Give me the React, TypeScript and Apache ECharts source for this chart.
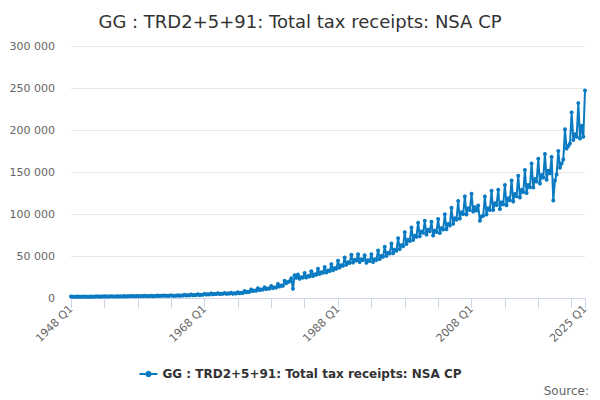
import React, { useEffect, useRef } from "react";
import * as echarts from "echarts";

const TITLE = "GG : TRD2+5+91: Total tax receipts: NSA CP";
const SERIES_NAME = "GG : TRD2+5+91: Total tax receipts: NSA CP";
const FIRST_YEAR = 1948;

// Quarterly values (£m), 1948 Q1 .. 2025 Q1
const values1948_1959 = [
  1680, 1380, 1490, 1450, 1740, 1430, 1530, 1500, 1790, 1470, 1580, 1550,
  1900, 1560, 1680, 1650, 1960, 1610, 1730, 1700, 2020, 1660, 1780, 1750,
  2070, 1700, 1830, 1790, 2180, 1790, 1930, 1890, 2300, 1890, 2030, 1990,
  2410, 1980, 2130, 2090, 2520, 2070, 2230, 2180, 2580, 2120, 2280, 2230,
];
const values1960_1969 = [
  2690, 2210, 2380, 2330, 2910, 2390, 2570, 2520, 3080, 2530, 2720, 2670,
  3140, 2580, 2770, 2720, 3360, 2760, 2970, 2910, 3750, 3080, 3320, 3250,
  4090, 3360, 3610, 3540, 4420, 3630, 3910, 3830, 4930, 4050, 4360, 4270,
  5490, 4510, 4850, 4750,
];
const values1970_1979 = [
  5820, 4780, 5150, 5040, 6050, 4970, 5350, 5240, 6270, 5150, 5540, 5430,
  6940, 5700, 6140, 6010, 8400, 6900, 7430, 7280, 10080, 8280, 8910, 8730,
  11540, 9480, 10200, 9990, 12880, 10580, 11390, 11160, 14340, 11780, 12670, 12420,
  16800, 13800, 14850, 14550,
];
const values1980_1989 = [
  20500, 17500, 19000, 20000, 23500, 11000, 27000, 24000, 28000, 23000, 24750, 24250,
  29680, 24380, 26240, 25710, 31920, 26220, 28220, 27650, 34720, 28520, 30690, 30070,
  36960, 30360, 32670, 32010, 40320, 33120, 35640, 34920, 44240, 36340, 39110, 38320,
  48160, 39560, 42570, 41710,
];
const values1990_1999 = [
  51520, 42320, 45540, 44620, 52080, 42780, 46040, 45110, 50960, 41860, 45050, 44140,
  52080, 42780, 46040, 45110, 56560, 46460, 50000, 48990, 61040, 50140, 53960, 52870,
  64960, 53360, 57420, 56260, 71120, 58420, 62870, 61600, 78400, 64400, 69300, 67900,
  84000, 69000, 74250, 72750,
];
const values2000_2009 = [
  89600, 73600, 79200, 77600, 91840, 75440, 81180, 79540, 90720, 74520, 80190, 78570,
  94080, 77280, 83160, 81480, 99680, 81880, 88110, 86330, 107520, 88320, 95040, 93120,
  115360, 94760, 101970, 99910, 120960, 99360, 106920, 104760, 124000, 103000, 108000, 104000,
  110000, 92000, 97000, 98000,
];
const values2010_2019 = [
  120960, 99360, 106920, 104760, 127680, 104880, 112860, 110580, 128800, 105800, 113850, 111550,
  134400, 110400, 118800, 116400, 140000, 115000, 123750, 121250, 145600, 119600, 128700, 126100,
  152320, 125120, 134640, 131920, 160160, 131560, 141570, 138710, 165760, 136160, 146520, 143560,
  171360, 140760, 151470, 148410,
];
const values2020_2025 = [
  168000, 116000, 140000, 147000, 175000, 155000, 160000, 165000,
  201000, 178000, 181000, 184000, 221000, 188000, 195000, 192000,
  232000, 190000, 205000, 192000, 247000,
];

const values = [
  ...values1948_1959,
  ...values1960_1969,
  ...values1970_1979,
  ...values1980_1989,
  ...values1990_1999,
  ...values2000_2009,
  ...values2010_2019,
  ...values2020_2025,
];

const categories = values.map(
  (_, i) => `${FIRST_YEAR + Math.floor(i / 4)} Q${(i % 4) + 1}`
);

const LABEL_EVERY = 80;
const TICK_EVERY = 20;

const fmt = (v: number) => String(v).replace(/\B(?=(\d{3})+(?!\d))/g, " ");

export default function App() {
  const ref = useRef<HTMLDivElement>(null);
  useEffect(() => {
    document.body.style.margin = "0";
    if (!ref.current) return;
    const chart = echarts.init(ref.current, null, { renderer: "svg" });
    const last = categories.length - 1;
    const font = "'DejaVu Sans', Verdana, sans-serif";
    chart.setOption({
      animation: false,
      textStyle: { fontFamily: font },
      title: {
        text: TITLE,
        left: "center",
        top: 7,
        textStyle: { fontSize: 18, fontWeight: "normal", color: "#333333", fontFamily: font },
      },
      grid: { left: 71, right: 15, top: 46, bottom: 102, containLabel: false },
      legend: {
        bottom: 15,
        left: "center",
        itemWidth: 18,
        itemHeight: 8,
        itemGap: 4,
        textStyle: { fontSize: 12, fontWeight: "bold", color: "#333333", fontFamily: font },
        data: [SERIES_NAME],
      },
      xAxis: {
        type: "category",
        boundaryGap: false,
        data: categories,
        axisLine: { lineStyle: { color: "#ccd6eb", width: 1 } },
        axisTick: {
          show: true,
          length: 10,
          interval: (i: number) => i % TICK_EVERY === 0 || i === last,
          lineStyle: { color: "#ccd6eb" },
        },
        axisLabel: {
          rotate: 45,
          fontSize: 11,
          color: "#666666",
          margin: 9,
          interval: (i: number) => i % LABEL_EVERY === 0 || i === last,
          fontFamily: font,
        },
        splitLine: { show: false },
      },
      yAxis: {
        type: "value",
        min: 0,
        max: 300000,
        interval: 50000,
        axisLine: { show: false },
        axisTick: { show: false },
        axisLabel: {
          fontSize: 11,
          color: "#666666",
          margin: 16,
          formatter: (v: number) => fmt(v),
          fontFamily: font,
        },
        splitLine: { lineStyle: { color: "#e6e6e6", width: 1 } },
      },
      series: [
        {
          name: SERIES_NAME,
          type: "line",
          data: values,
          color: "#0a7bc2",
          lineStyle: { width: 2, color: "#0a7bc2" },
          symbol: "circle",
          symbolSize: 4,
          showSymbol: true,
          showAllSymbol: true,
          itemStyle: { color: "#0a7bc2" },
        },
      ],
      graphic: [
        {
          type: "text",
          right: 11,
          bottom: 3,
          style: { text: "Source:", fontSize: 12, fill: "#666666", fontFamily: font },
        },
      ],
    });
    return () => chart.dispose();
  }, []);
  return <div ref={ref} style={{ width: 600, height: 400 }} />;
}
